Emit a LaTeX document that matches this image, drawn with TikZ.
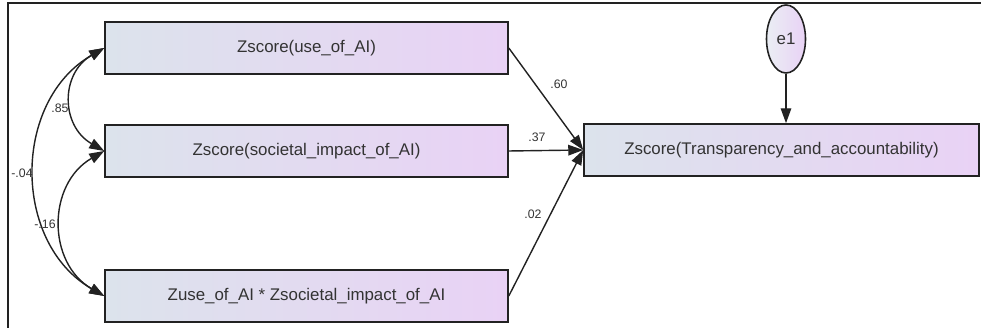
\documentclass[tikz,border=0pt]{standalone}
\usepackage{fontspec}
\setmainfont{Liberation Sans}
\definecolor{semleft}{HTML}{DCE3EC}
\definecolor{semright}{HTML}{E9D2F5}
\definecolor{semline}{HTML}{222222}
\definecolor{semtext}{HTML}{333333}
\usetikzlibrary{shapes,arrows.meta,positioning,calc}

\begin{document}
\begin{tikzpicture}[
  varbox/.style={draw=semline, line width=0.9pt, left color=semleft, right color=semright,
    minimum height=1.04cm, inner sep=0pt, font=\fontsize{9.6}{11}\selectfont, text=semtext},
  errnode/.style={ellipse, draw=semline, line width=0.9pt, left color=semleft!60, right color=semright,
    minimum width=0.78cm, minimum height=1.36cm, inner sep=0pt, font=\fontsize{9.6}{11}\selectfont, text=semtext},
  path/.style={draw=semline, line width=0.8pt, -{Triangle[length=8.5pt,width=6pt]}},
  cov/.style={draw=semline, line width=0.8pt, {Triangle[length=8.5pt,width=6pt]}-{Triangle[length=8.5pt,width=6pt]}},
  coef/.style={font=\fontsize{7}{8}\selectfont, text=semtext, inner sep=0.5pt}]
\useasboundingbox (0,0) rectangle (19.62,6.56);
\draw[semline, line width=0.8pt] (0.16,0) -- (0.16,6.5) -- (19.62,6.5);

% predictors
\node[varbox, minimum width=8.06cm] (use) at (6.13,5.6) {Zscore(use\_of\_AI)};
\node[varbox, minimum width=8.06cm] (soc) at (6.13,3.54) {Zscore(societal\_impact\_of\_AI)};
\node[varbox, minimum width=8.06cm] (inter) at (6.13,0.64) {Zuse\_of\_AI * Zsocietal\_impact\_of\_AI};

% outcome and error
\node[varbox, minimum width=7.9cm] (tra) at (15.63,3.56) {Zscore(Transparency\_and\_accountability)};
\node[errnode] (e1) at (15.72,5.78) {e1};
\draw[path] (e1.south) -- (e1.south |- tra.north);

% regression paths
\draw[path] (use.east) -- (tra.west);
\draw[path] (soc.east) -- (tra.west);
\draw[path] (inter.east) -- (tra.west);
\node[coef] (b60) at (11.18,4.88) {.60};
\node[coef] (b37) at (10.74,3.82) {.37};
\node[coef] (b02) at (10.66,2.28) {.02};

% covariances
\draw[cov] (use.west) to[bend right=60, looseness=1.26] (soc.west);
\draw[cov] (soc.west) to[bend right=60, looseness=1.17] (inter.west);
\draw[cov] (use.west) to[bend right=60, looseness=1.1] (inter.west);
\node[coef] (c85) at (1.2,4.4) {.85};
\node[coef] (c16) at (0.9,2.08) {-.16};
\node[coef] (c04) at (0.44,3.1) {-.04};
\end{tikzpicture}
\end{document}
